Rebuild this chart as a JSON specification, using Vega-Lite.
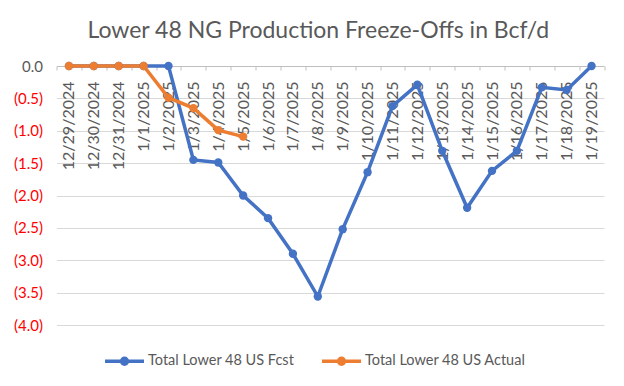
{
  "$schema": "https://vega.github.io/schema/vega-lite/v6.json",
  "width": 547.5,
  "height": 259,
  "autosize": {"type": "none"},
  "padding": {"left": 56.5, "top": 66, "right": 20, "bottom": 61},
  "background": "white",
  "config": {
    "font": "Lato",
    "view": {"stroke": null},
    "axis": {"labelFont": "Lato", "labelColor": "#595959"}
  },
  "title": {
    "text": "Lower 48 NG Production Freeze-Offs in Bcf/d",
    "fontSize": 23,
    "fontWeight": "normal",
    "color": "#595959",
    "font": "Lato",
    "anchor": "middle",
    "offset": 16,
    "dx": -12
  },
  "data": {
    "values": [
      {"date": "12/29/2024", "series": "Total Lower 48 US Fcst", "value": 0},
      {"date": "12/30/2024", "series": "Total Lower 48 US Fcst", "value": 0},
      {"date": "12/31/2024", "series": "Total Lower 48 US Fcst", "value": 0},
      {"date": "1/1/2025", "series": "Total Lower 48 US Fcst", "value": 0},
      {"date": "1/2/2025", "series": "Total Lower 48 US Fcst", "value": 0},
      {"date": "1/3/2025", "series": "Total Lower 48 US Fcst", "value": -1.45},
      {"date": "1/4/2025", "series": "Total Lower 48 US Fcst", "value": -1.49},
      {"date": "1/5/2025", "series": "Total Lower 48 US Fcst", "value": -2.0},
      {"date": "1/6/2025", "series": "Total Lower 48 US Fcst", "value": -2.35},
      {"date": "1/7/2025", "series": "Total Lower 48 US Fcst", "value": -2.9},
      {"date": "1/8/2025", "series": "Total Lower 48 US Fcst", "value": -3.56},
      {"date": "1/9/2025", "series": "Total Lower 48 US Fcst", "value": -2.52},
      {"date": "1/10/2025", "series": "Total Lower 48 US Fcst", "value": -1.64},
      {"date": "1/11/2025", "series": "Total Lower 48 US Fcst", "value": -0.62},
      {"date": "1/12/2025", "series": "Total Lower 48 US Fcst", "value": -0.29},
      {"date": "1/13/2025", "series": "Total Lower 48 US Fcst", "value": -1.31},
      {"date": "1/14/2025", "series": "Total Lower 48 US Fcst", "value": -2.19},
      {"date": "1/15/2025", "series": "Total Lower 48 US Fcst", "value": -1.62},
      {"date": "1/16/2025", "series": "Total Lower 48 US Fcst", "value": -1.31},
      {"date": "1/17/2025", "series": "Total Lower 48 US Fcst", "value": -0.33},
      {"date": "1/18/2025", "series": "Total Lower 48 US Fcst", "value": -0.37},
      {"date": "1/19/2025", "series": "Total Lower 48 US Fcst", "value": 0},
      {"date": "12/29/2024", "series": "Total Lower 48 US Actual", "value": 0},
      {"date": "12/30/2024", "series": "Total Lower 48 US Actual", "value": 0},
      {"date": "12/31/2024", "series": "Total Lower 48 US Actual", "value": 0},
      {"date": "1/1/2025", "series": "Total Lower 48 US Actual", "value": 0},
      {"date": "1/2/2025", "series": "Total Lower 48 US Actual", "value": -0.49},
      {"date": "1/3/2025", "series": "Total Lower 48 US Actual", "value": -0.65},
      {"date": "1/4/2025", "series": "Total Lower 48 US Actual", "value": -0.99},
      {"date": "1/5/2025", "series": "Total Lower 48 US Actual", "value": -1.09}
    ]
  },
  "mark": {"type": "line", "strokeWidth": 3.5, "point": {"filled": true, "size": 70}},
  "encoding": {
    "x": {
      "field": "date",
      "type": "ordinal",
      "sort": null,
      "scale": {"type": "band", "paddingInner": 0, "paddingOuter": 0},
      "axis": {
        "title": null,
        "orient": "bottom",
        "offset": -259,
        "zindex": 0,
        "labelAngle": -90,
        "labelFontSize": 16,
        "labelPadding": 11,
        "tickBand": "extent",
        "tickSize": 4,
        "tickColor": "#BFBFBF",
        "domainColor": "#BFBFBF",
        "grid": false
      }
    },
    "y": {
      "field": "value",
      "type": "quantitative",
      "scale": {"domain": [-4, 0], "nice": false},
      "axis": {
        "title": null,
        "zindex": 0,
        "values": [0, -0.5, -1, -1.5, -2, -2.5, -3, -3.5, -4],
        "labelExpr": "datum.value < 0 ? '(' + format(-datum.value, '.1f') + ')' : format(datum.value, '.1f') + '\u2002'",
        "labelColor": {"condition": {"test": "datum.value < 0", "value": "#FF0000"}, "value": "#595959"},
        "labelFontSize": 15,
        "domain": false,
        "ticks": false,
        "labelPadding": 14,
        "gridColor": "#D9D9D9",
        "gridWidth": 1
      }
    },
    "color": {
      "field": "series",
      "type": "nominal",
      "sort": ["Total Lower 48 US Fcst", "Total Lower 48 US Actual"],
      "scale": {"domain": ["Total Lower 48 US Fcst", "Total Lower 48 US Actual"], "range": ["#4472C4", "#ED7D31"]},
      "legend": {
        "title": null,
        "orient": "none",
        "legendX": 46.5,
        "legendY": 273.5,
        "direction": "horizontal",
        "symbolType": "M-1,0L1,0M-0.15,0A0.15,0.15 0 1,0 0.15,0A0.15,0.15 0 1,0 -0.15,0",
        "symbolSize": 1521,
        "symbolStrokeWidth": 3.5,
        "labelFontSize": 14.5,
        "labelColor": "#595959",
        "labelFont": "Lato",
        "labelOffset": 2,
        "labelLimit": 400,
        "columnPadding": 20
      }
    }
  }
}
